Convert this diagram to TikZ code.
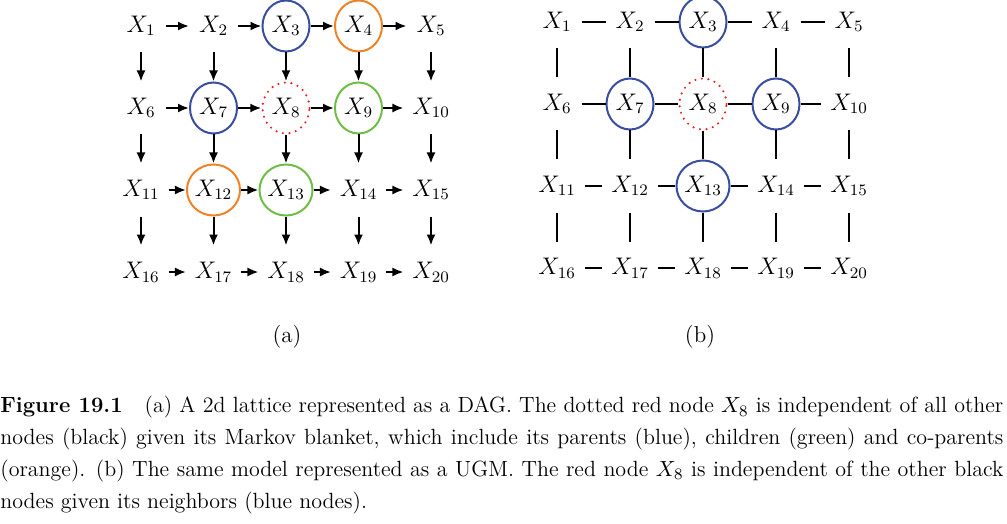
\documentclass[tikz,border=0pt]{standalone}
\usepackage{amsmath}
\usepackage{amssymb}
\usepackage{fontspec}
\usetikzlibrary{arrows.meta,shapes.geometric}

\definecolor{nodeblue}{RGB}{58,78,160}
\definecolor{nodeorange}{RGB}{240,130,40}
\definecolor{nodegreen}{RGB}{110,190,70}
\definecolor{nodered}{RGB}{235,30,40}

\tikzset{
  var/.style={ellipse, inner sep=0pt, minimum width=23.5pt, minimum height=25.5pt,
    line width=1pt, font=\fontsize{12}{14}\selectfont},
  parent/.style={var, draw=nodeblue},
  child/.style={var, draw=nodegreen},
  coparent/.style={var, draw=nodeorange},
  query/.style={var, draw=nodered, line cap=round, dash pattern=on 0pt off 3.3pt, line width=1.2pt},
  dirarrow/.style={line width=1pt, -{Latex[length=5.5pt,width=4.5pt]}},
  undir/.style={line width=1pt},
}

\begin{document}
\begin{tikzpicture}[x=0.5pt,y=-0.5pt]
\useasboundingbox (0,0) rectangle (1007,524);

% (a) lattice as a DAG
\node[var]      (a1)  at (141,26)   {$X_{1}$};
\node[var]      (a2)  at (213.5,26) {$X_{2}$};
\node[parent]   (a3)  at (286,26)   {$X_{3}$};
\node[coparent] (a4)  at (358.5,26) {$X_{4}$};
\node[var]      (a5)  at (431,26)   {$X_{5}$};
\node[var]      (a6)  at (141,108)   {$X_{6}$};
\node[parent]   (a7)  at (213.5,108) {$X_{7}$};
\node[query]    (a8)  at (286,108)   {$X_{8}$};
\node[child]    (a9)  at (358.5,108) {$X_{9}$};
\node[var]      (a10) at (431,108)   {$X_{10}$};
\node[var]      (a11) at (141,190)   {$X_{11}$};
\node[coparent] (a12) at (213.5,190) {$X_{12}$};
\node[child]    (a13) at (286,190)   {$X_{13}$};
\node[var]      (a14) at (358.5,190) {$X_{14}$};
\node[var]      (a15) at (431,190)   {$X_{15}$};
\node[var]      (a16) at (141,272)   {$X_{16}$};
\node[var]      (a17) at (213.5,272) {$X_{17}$};
\node[var]      (a18) at (286,272)   {$X_{18}$};
\node[var]      (a19) at (358.5,272) {$X_{19}$};
\node[var]      (a20) at (431,272)   {$X_{20}$};

\foreach \r in {0,...,3}
  \foreach \c in {1,...,4}{
    \pgfmathtruncatemacro{\i}{5*\r+\c}
    \pgfmathtruncatemacro{\j}{\i+1}
    \draw[dirarrow] (a\i) -- (a\j);
  }
\foreach \i in {1,...,15}{
  \pgfmathtruncatemacro{\j}{\i+5}
  \draw[dirarrow] (a\i) -- (a\j);
}

% (b) same lattice as a UGM
\node[var]    (b1)  at (557,22) {$X_{1}$};
\node[var]    (b2)  at (630,22) {$X_{2}$};
\node[parent] (b3)  at (703,22) {$X_{3}$};
\node[var]    (b4)  at (776,22) {$X_{4}$};
\node[var]    (b5)  at (849,22) {$X_{5}$};
\node[var]    (b6)  at (557,104) {$X_{6}$};
\node[parent] (b7)  at (630,104) {$X_{7}$};
\node[query]  (b8)  at (703,104) {$X_{8}$};
\node[parent] (b9)  at (776,104) {$X_{9}$};
\node[var]    (b10) at (849,104) {$X_{10}$};
\node[var]    (b11) at (557,186) {$X_{11}$};
\node[var]    (b12) at (630,186) {$X_{12}$};
\node[parent] (b13) at (703,186) {$X_{13}$};
\node[var]    (b14) at (776,186) {$X_{14}$};
\node[var]    (b15) at (849,186) {$X_{15}$};
\node[var]    (b16) at (557,268) {$X_{16}$};
\node[var]    (b17) at (630,268) {$X_{17}$};
\node[var]    (b18) at (703,268) {$X_{18}$};
\node[var]    (b19) at (776,268) {$X_{19}$};
\node[var]    (b20) at (849,268) {$X_{20}$};

\foreach \r in {0,...,3}
  \foreach \c in {1,...,4}{
    \pgfmathtruncatemacro{\i}{5*\r+\c}
    \pgfmathtruncatemacro{\j}{\i+1}
    \draw[undir] (b\i) -- (b\j);
  }
\foreach \i in {1,...,15}{
  \pgfmathtruncatemacro{\j}{\i+5}
  \draw[undir] (b\i) -- (b\j);
}

% sub-labels and caption
\node[font=\fontsize{11.5}{13}\selectfont] (laba) at (287,337) {(a)};
\node[font=\fontsize{11.5}{13}\selectfont] (labb) at (700,337) {(b)};

\node[anchor=north west, inner sep=0pt, text width=501.5pt, align=justify,
      font=\fontsize{11}{15.9}\selectfont] (caption) at (0,396)
  {\noindent\textbf{Figure 19.1}\quad (a) A 2d lattice represented as a DAG. The dotted red node $X_8$ is independent of all other\linebreak
   nodes (black) given its Markov blanket, which include its parents (blue), children (green) and co-parents\linebreak
   (orange). (b) The same model represented as a UGM. The red node $X_8$ is independent of the other black\linebreak
   nodes given its neighbors (blue nodes).};
\end{tikzpicture}
\end{document}
